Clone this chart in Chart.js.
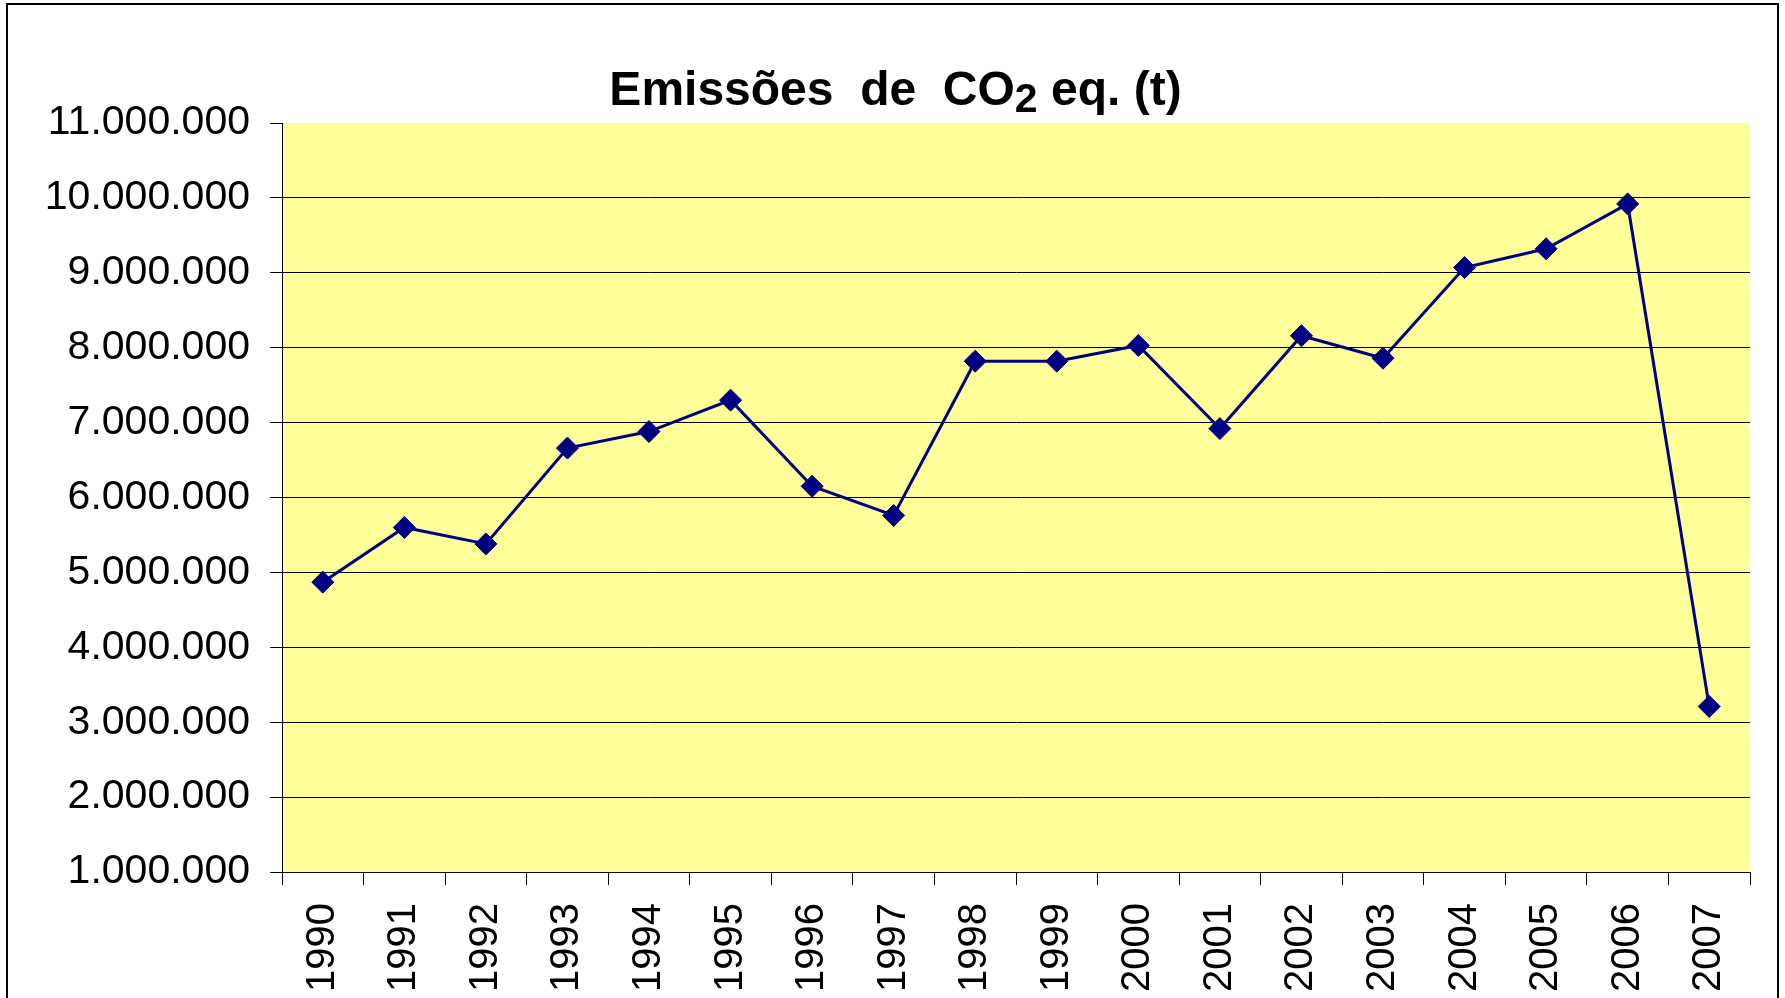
<!DOCTYPE html>
<html>
<head>
<meta charset="utf-8">
<script src="https://cdn.jsdelivr.net/npm/chart.js@4.4.1/dist/chart.umd.min.js"></script>
<style>
  body { margin: 0; background: #fff; }
  canvas { display: block; }
</style>
</head>
<body>
<canvas id="co2Chart" width="1785" height="998"></canvas>
<script>
let years = ['1990','1991','1992','1993','1994','1995','1996','1997','1998',
             '1999','2000','2001','2002','2003','2004','2005','2006','2007'];
let emissions = [4870000, 5600000, 5380000, 6660000, 6880000, 7300000, 6150000, 5760000, 7820000,
                 7820000, 8030000, 6920000, 8160000, 7860000, 9070000, 9320000, 9920000, 3210000];
let yMin = 1000000;
let yMax = 11000000;
let yStep = 1000000;

let fontFamily = '"Liberation Sans", Arial, sans-serif';

// formats 11000000 as 11.000.000
function fmt(v) {
  return String(v).replace(/\B(?=(\d{3})+(?!\d))/g, '.');
}

// yellow plot area and outer frame
let backdrop = {
  id: 'backdrop',
  beforeDraw: (chart) => {
    let c = chart.ctx;
    let a = chart.chartArea;
    c.save();
    c.fillStyle = '#FFFF99';
    c.fillRect(a.left, a.top, a.right - a.left, a.bottom - a.top);
    c.strokeStyle = '#000';
    c.lineWidth = 2;
    c.beginPath();
    c.moveTo(7, 1100);
    c.lineTo(7, 4);
    c.lineTo(1778, 4);
    c.lineTo(1778, 1100);
    c.stroke();
    c.restore();
  }
};

// title with subscript 2
let titleWithSub = {
  id: 'titleWithSub',
  afterDraw: (chart) => {
    let c = chart.ctx;
    let parts = [
      { text: 'Emissões  de  CO', size: 48, dy: 0 },
      { text: '2', size: 41, dy: 7 },
      { text: ' eq. (t)', size: 48, dy: 0 }
    ];
    c.save();
    c.fillStyle = '#000';
    c.textBaseline = 'alphabetic';
    c.textAlign = 'left';
    let total = 0;
    parts.forEach(p => {
      c.font = 'bold ' + p.size + 'px ' + fontFamily;
      p.w = c.measureText(p.text).width;
      total += p.w;
    });
    let x = chart.width / 2 - total / 2 + 3;
    parts.forEach(p => {
      c.font = 'bold ' + p.size + 'px ' + fontFamily;
      c.fillText(p.text, x, 105 + p.dy);
      x += p.w;
    });
    c.restore();
  }
};

let ctx = document.getElementById('co2Chart').getContext('2d');

let co2Chart = new Chart(ctx, {
  type: 'line',
  data: {
    labels: years,
    datasets: [{
      data: emissions,
      borderColor: '#000080',
      borderWidth: 3,
      tension: 0,
      pointStyle: 'rectRot',
      pointRadius: 11,
      pointHoverRadius: 11,
      pointBackgroundColor: '#000080',
      pointBorderColor: '#000080',
      pointBorderWidth: 1,
      clip: false
    }]
  },
  options: {
    responsive: false,
    animation: false,
    devicePixelRatio: 1,
    layout: {
      padding: { top: 123, right: 35, left: 0, bottom: 0 }
    },
    plugins: {
      legend: { display: false },
      title: { display: false },
      tooltip: { enabled: false }
    },
    scales: {
      x: {
        offset: true,
        grid: {
          offset: true,
          drawOnChartArea: false,
          drawTicks: true,
          tickLength: 13,
          tickColor: '#000',
          color: '#000'
        },
        border: { display: true, color: '#000', width: 1 },
        ticks: {
          minRotation: 90,
          maxRotation: 90,
          padding: 18,
          color: '#000',
          font: { family: fontFamily, size: 40 }
        },
        afterFit: (scale) => { scale.height = 126; }
      },
      y: {
        min: yMin,
        max: yMax,
        grid: {
          color: (c) => (c.tick && c.tick.value === yMax) ? 'rgba(0,0,0,0)' : '#000',
          lineWidth: 1,
          tickLength: 12,
          tickColor: '#000'
        },
        border: { display: true, color: '#000', width: 1 },
        ticks: {
          stepSize: yStep,
          padding: 20,
          color: '#000',
          font: { family: fontFamily, size: 41 },
          callback: (value) => fmt(value)
        },
        afterFit: (scale) => { scale.width = 282; }
      }
    }
  },
  plugins: [backdrop, titleWithSub]
});
</script>
</body>
</html>
